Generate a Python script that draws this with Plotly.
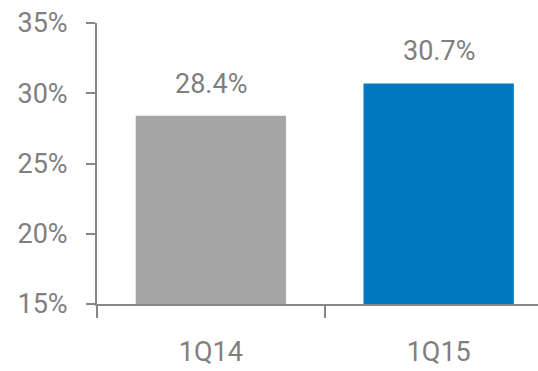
import plotly.graph_objects as go

# Quarterly share values (%)
quarters = ["1Q14", "1Q15"]
share_pct = [28.4, 30.7]
bar_colors = ["#A6A6A6", "#0079C1"]
y_ticks = [15, 20, 25, 30, 35]
y_tick_labels = ["15%", "20%", "25%", "30%", "35%"]

FONT = "Roboto, Noto Sans, sans-serif"
TEXT_GRAY = "#7F7F7F"
AXIS_GRAY = "#868686"
TXT = dict(family=FONT, size=27, color=TEXT_GRAY)

fig = go.Figure(
    go.Bar(
        x=quarters,
        y=share_pct,
        marker=dict(color=bar_colors, line=dict(width=0)),
        width=0.66,
        hoverinfo="skip",
    )
)

# Value labels above each bar
for q, v in zip(quarters, share_pct):
    fig.add_annotation(
        x=q, y=v, text=f"{v:.1f}%", showarrow=False,
        yanchor="bottom", yshift=14,
        font=TXT,
    )

fig.update_layout(
    width=538, height=371,
    margin=dict(l=97, r=0, t=23, b=67),
    paper_bgcolor="white", plot_bgcolor="white",
    showlegend=False,
    font=TXT,
    xaxis=dict(
        range=[-0.5, 1.436],
        showline=True, linecolor=AXIS_GRAY, linewidth=2,
        ticks="outside", tickson="boundaries", ticklen=12,
        tickcolor=AXIS_GRAY, tickwidth=1.5,
        ticklabelstandoff=23,
        tickfont=TXT,
        showgrid=False, zeroline=False,
    ),
    yaxis=dict(
        range=[15, 35],
        tickvals=y_ticks, ticktext=y_tick_labels,
        showline=True, linecolor=AXIS_GRAY, linewidth=2,
        ticks="outside", ticklen=9, tickcolor=AXIS_GRAY, tickwidth=1.5,
        ticklabelstandoff=13,
        tickfont=TXT,
        showgrid=False, zeroline=False,
    ),
)

fig.write_html("out.html")
